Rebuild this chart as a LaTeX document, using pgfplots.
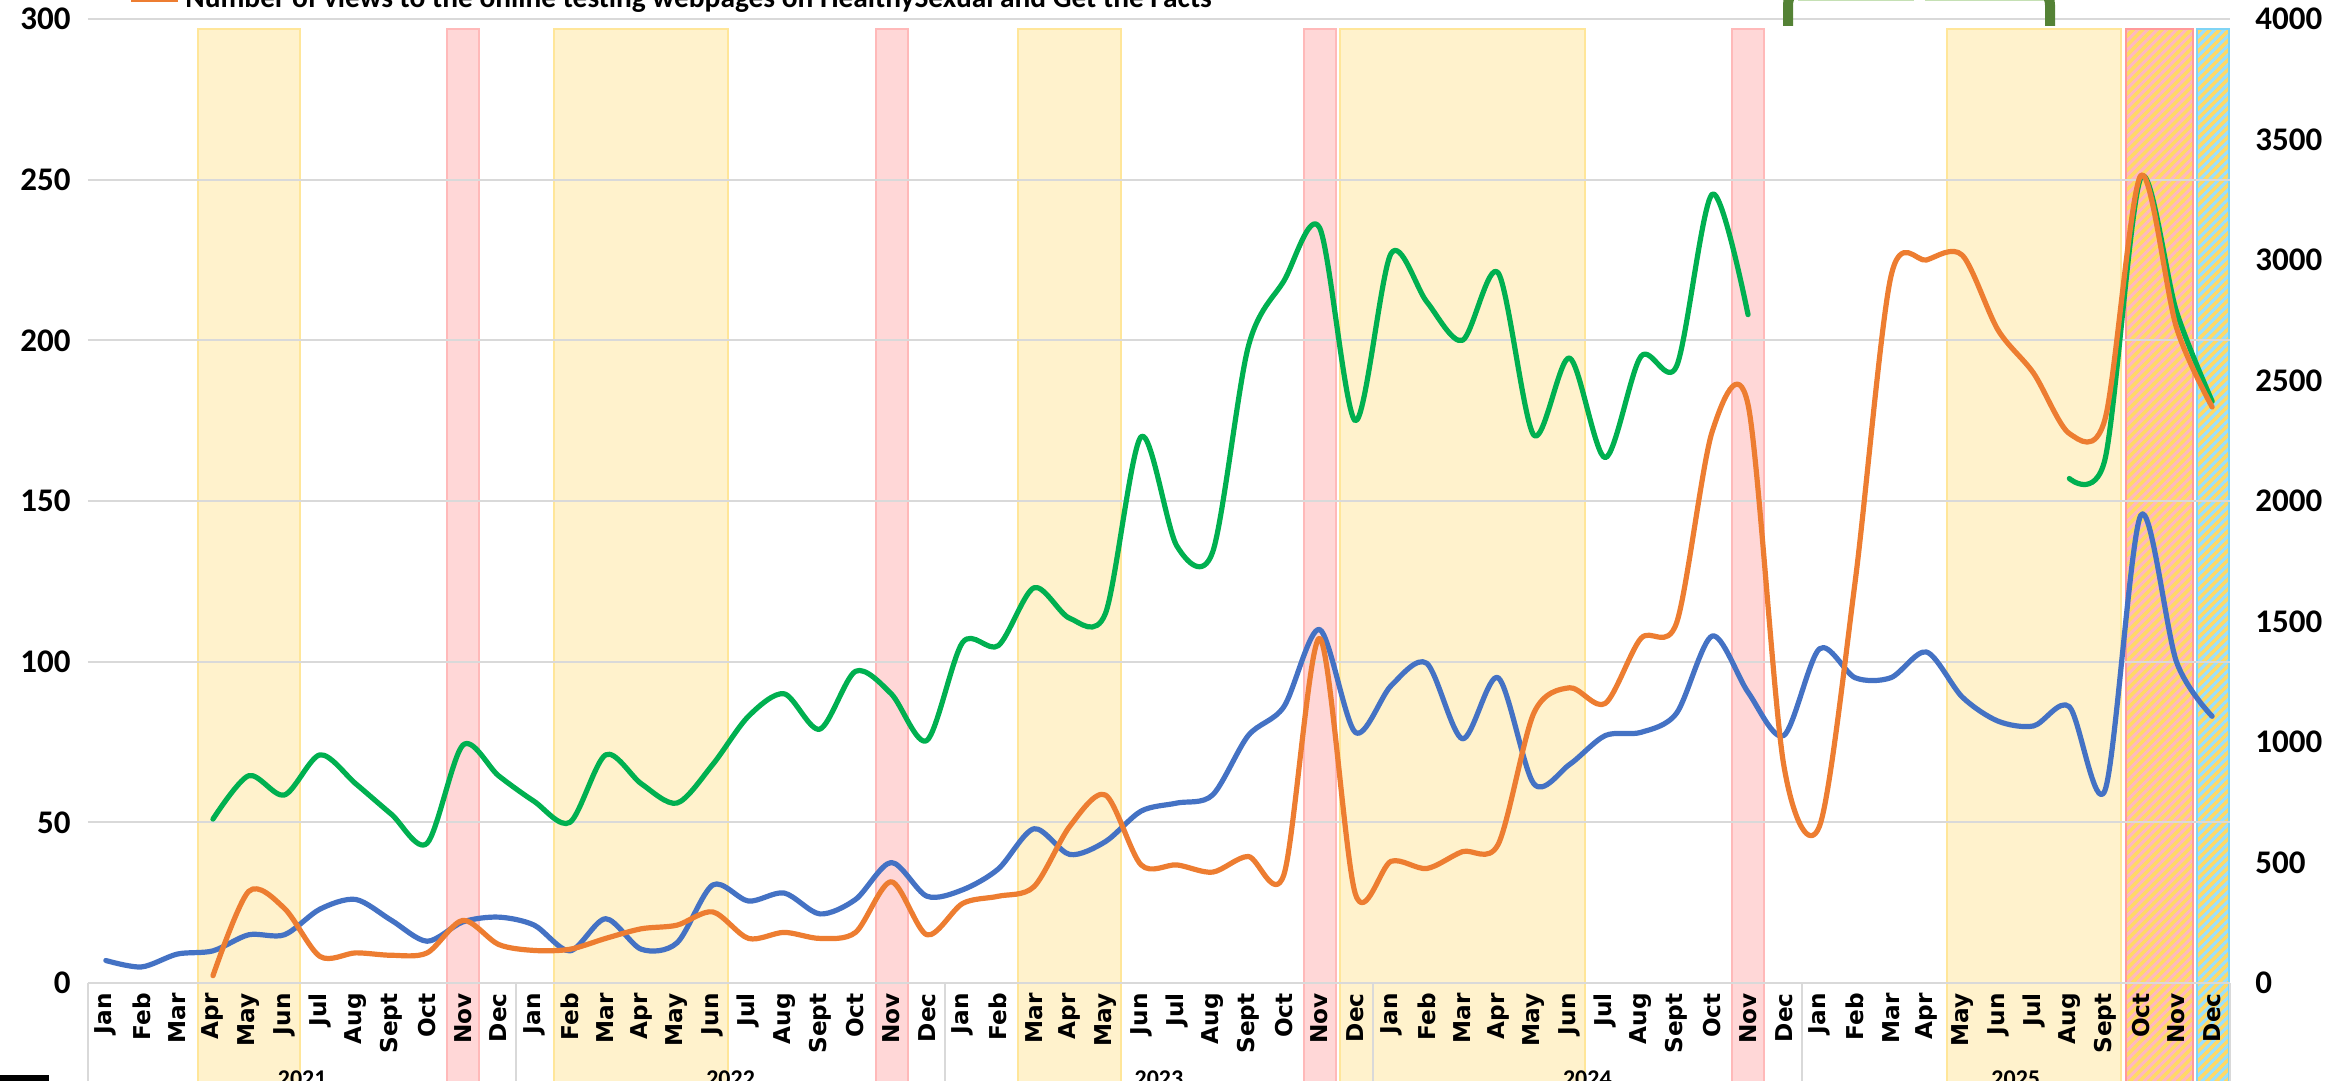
\documentclass[border=0pt]{standalone}
\usepackage{fontspec}
\setmainfont{Carlito}
\newfontfamily\dejavu{DejaVu Sans}
\usepackage{pgfplots}
\pgfplotsset{compat=1.18}
\usetikzlibrary{patterns.meta}

\definecolor{cblue}{HTML}{4472C4}
\definecolor{corange}{HTML}{ED7D31}
\definecolor{cgreen}{HTML}{00B050}
\definecolor{dkgreen}{HTML}{548235}
\definecolor{ltgreen}{HTML}{C5E0B4}
\definecolor{gridgray}{HTML}{D9D9D9}
\definecolor{yfill}{HTML}{FFF2CC}
\definecolor{ydraw}{HTML}{FFE699}
\definecolor{rfill}{HTML}{FFD7D7}
\definecolor{rdraw}{HTML}{FFB9B9}
\definecolor{hyel}{HTML}{FFD966}
\definecolor{hpink}{HTML}{FFB7C0}
\definecolor{hred}{HTML}{FF9999}
\definecolor{hblue}{HTML}{99E0FF}
\definecolor{hbluedraw}{HTML}{7FD4F5}

\newcommand\tickfont{\fontsize{16.5}{18}\selectfont\bfseries}
\newcommand\yearfont{\fontsize{12}{14}\selectfont\bfseries}
\newcommand\monthfont{\dejavu\bfseries\fontsize{11.6}{13}\selectfont}

\pgfplotsset{
  base/.style={width=1071pt, height=482pt, scale only axis, at={(0,0)}, anchor=south west,
    xmin=-0.5, xmax=59.5, clip=false},
  ser/.style={smooth, tension=0.5, line width=2.6pt, no markers, line join=round, line cap=round},
  yband/.style={fill=yfill, draw=ydraw, line width=1pt},
  rband/.style={fill=rfill, draw=rdraw, line width=1pt},
}

\begin{document}
\begin{tikzpicture}
% ---------- axis 1: bands, grid, category labels, left scale
\begin{axis}[base, ymin=0, ymax=300,
  ytick={0,50,...,300}, ymajorgrids, grid style={gridgray, line width=1pt},
  axis line style={draw=none}, major tick length=0pt, axis on top,
  xtick={0,...,59},
  xticklabels={Jan,Feb,Mar,Apr,May,Jun,Jul,Aug,Sept,Oct,Nov,Dec,
               Jan,Feb,Mar,Apr,May,Jun,Jul,Aug,Sept,Oct,Nov,Dec,
               Jan,Feb,Mar,Apr,May,Jun,Jul,Aug,Sept,Oct,Nov,Dec,
               Jan,Feb,Mar,Apr,May,Jun,Jul,Aug,Sept,Oct,Nov,Dec,
               Jan,Feb,Mar,Apr,May,Jun,Jul,Aug,Sept,Oct,Nov,Dec},
  xticklabel style={font=\monthfont, rotate=90, anchor=east, inner ysep=0pt, inner xsep=5pt},
  yticklabel style={font=\tickfont, anchor=east, inner ysep=0pt, inner xsep=8.5pt},
  /pgf/number format/assume math mode=true,
]
% yellow bands
\addplot[yband] coordinates {(2.58,-40) (2.58,297) (5.44,297) (5.44,-40)} -- cycle;
\addplot[yband] coordinates {(12.56,-40) (12.56,297) (17.44,297) (17.44,-40)} -- cycle;
\addplot[yband] coordinates {(25.56,-40) (25.56,297) (28.44,297) (28.44,-40)} -- cycle;
\addplot[yband] coordinates {(34.56,-40) (34.56,297) (41.44,297) (41.44,-40)} -- cycle;
\addplot[yband] coordinates {(51.56,-40) (51.56,297) (56.46,297) (56.46,-40)} -- cycle;
% red bands
\addplot[rband] coordinates {(9.56,-40) (9.56,297) (10.46,297) (10.46,-40)} -- cycle;
\addplot[rband] coordinates {(21.56,-40) (21.56,297) (22.46,297) (22.46,-40)} -- cycle;
\addplot[rband] coordinates {(33.56,-40) (33.56,297) (34.46,297) (34.46,-40)} -- cycle;
\addplot[rband] coordinates {(45.56,-40) (45.56,297) (46.46,297) (46.46,-40)} -- cycle;
% hatched bands
\addplot[draw=hred, line width=1pt, preaction={fill=hyel},
  pattern={Lines[angle=45, distance=3.4pt, line width=1.5pt]}, pattern color=hpink]
  coordinates {(56.6,-40) (56.6,297) (58.46,297) (58.46,-40)} -- cycle;
\addplot[draw=hbluedraw, line width=1pt, preaction={fill=hyel},
  pattern={Lines[angle=45, distance=3.4pt, line width=1.5pt]}, pattern color=hblue]
  coordinates {(58.58,-40) (58.58,297) (59.47,297) (59.47,-40)} -- cycle;
% year separators and labels
\pgfplotsinvokeforeach{-0.5,11.5,23.5,35.5,47.5,59.5}{
  \draw[gridgray, line width=1pt] (axis cs:#1,0) -- ++(0pt,-60pt);
}
\node[font=\yearfont, anchor=base] at ([yshift=-52pt]axis cs:5.5,0) {2021};
\node[font=\yearfont, anchor=base] at ([yshift=-52pt]axis cs:17.5,0) {2022};
\node[font=\yearfont, anchor=base] at ([yshift=-52pt]axis cs:29.5,0) {2023};
\node[font=\yearfont, anchor=base] at ([yshift=-52pt]axis cs:41.5,0) {2024};
\node[font=\yearfont, anchor=base] at ([yshift=-52pt]axis cs:53.5,0) {2025};
\end{axis}

% ---------- axis 2: blue and green series (left scale)
\begin{axis}[base, ymin=0, ymax=300, hide axis]
\addplot[ser, cblue] coordinates {
(0,7) (1,5) (2,9) (3,10) (4,15) (5,15) (6,23) (7,26) (8,19.5) (9,13) (10,19) (11,20.5)
(12,18) (13,10) (14,20) (15,10.5) (16,12.5) (17,30.5) (18,25.5) (19,28) (20,21.5) (21,26) (22,37.5) (23,27)
(24,29) (25,35.5) (26,48) (27,40) (28,44) (29,53.5) (30,56) (31,58.5) (32,77) (33,86) (34,110) (35,78)
(36,92.5) (37,99.5) (38,76) (39,95) (40,62) (41,68) (42,77) (43,78) (44,84) (45,108) (46,90.5) (47,77)
(48,104) (49,95) (50,95) (51,103) (52,89) (53,81.5) (54,80) (55,86) (56,60) (57,145.5) (58,100) (59,83)};
\addplot[ser, cgreen] coordinates {
(3,51) (4,64.5) (5,58.5) (6,71) (7,62) (8,52.5) (9,43.5) (10,74) (11,64.5)
(12,56.5) (13,50) (14,71) (15,62) (16,56) (17,68) (18,83) (19,90) (20,79) (21,97) (22,90) (23,75.5)
(24,106) (25,105) (26,123) (27,113.5) (28,115) (29,170) (30,136) (31,134) (32,198) (33,218.5) (34,235) (35,175)
(36,227) (37,212) (38,200) (39,221) (40,170.5) (41,194.5) (42,163.5) (43,195) (44,192) (45,245.5) (46,208)};
\addplot[ser, cgreen] coordinates {(55,157) (56,163) (57,250.5) (58,209) (59,181)};
\end{axis}

% ---------- axis 3: orange series (right scale)
\begin{axis}[base, ymin=0, ymax=4000, ytick={0,500,...,4000},
  axis x line=none, axis y line*=right, y axis line style={draw=none},
  major tick length=0pt,
  yticklabel style={font=\tickfont, anchor=west, inner ysep=0pt, inner xsep=12.5pt},
  /pgf/number format/1000 sep={}, /pgf/number format/assume math mode=true]
\addplot[ser, corange] coordinates {
(3,30) (4,380) (5,310) (6,110) (7,125) (8,115) (9,125) (10,260) (11,160)
(12,135) (13,140) (14,185) (15,225) (16,240) (17,295) (18,185) (19,210) (20,185) (21,210) (22,420) (23,200)
(24,330) (25,360) (26,400) (27,650) (28,780) (29,490) (30,490) (31,460) (32,525) (33,450) (34,1430) (35,370)
(36,505) (37,475) (38,545) (39,575) (40,1120) (41,1225) (42,1160) (43,1430) (44,1495) (45,2290) (46,2400) (47,905)
(48,650) (49,1665) (50,2930) (51,3000) (52,3020) (53,2710) (54,2530) (55,2280) (56,2340) (57,3350) (58,2720) (59,2390)};
\end{axis}

% ---------- cropped decorations at the picture's edges
\draw[corange, line width=3pt] (21.5pt,492pt) -- (45pt,492pt);
\node[font=\fontsize{14.7}{16}\selectfont\bfseries, anchor=base west, inner sep=0pt]
  at (48.5pt,487.5pt) {Number of views to the online testing webpages on HealthySexual and Get the Facts};
\draw[ltgreen, line width=1pt] (855pt,491.3pt) -- (913pt,491.3pt);
\draw[ltgreen, line width=1pt] (918.5pt,491.3pt) -- (979pt,491.3pt);
\draw[dkgreen, line width=5pt, rounded corners=9pt] (850pt,478.5pt) -- (850pt,498pt) -- (981pt,498pt) -- (981pt,478.5pt);
\fill[black] (-46pt,-46pt) rectangle (-19.5pt,-52pt);

\pgfresetboundingbox
\path[use as bounding box] (-44pt,-49pt) rectangle (1121.5pt,491.5pt);
\end{tikzpicture}
\end{document}
